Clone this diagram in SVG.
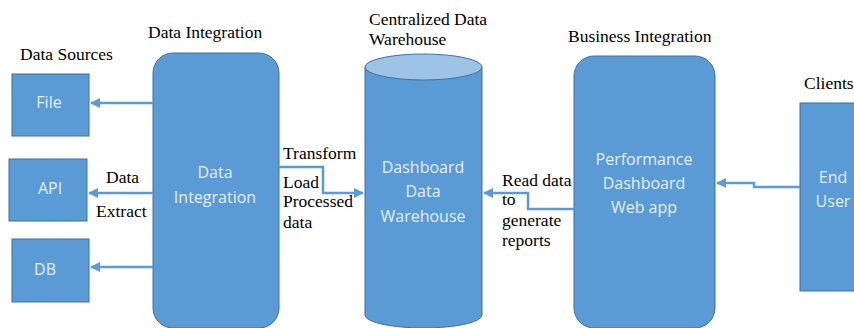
<svg xmlns="http://www.w3.org/2000/svg" width="854" height="328" viewBox="0 0 854 328">
<defs>
<style>
.box{fill:#5B9BD5;stroke:#41719C;stroke-width:1}
.top{fill:#9DC3E6;stroke:#41719C;stroke-width:1}
.lbl{font-family:"Liberation Serif","Times New Roman",serif;font-size:17.5px;fill:#000}
.in{font-family:"Open Sans","Noto Sans",sans-serif;font-size:16px;fill:#E2EEF9;text-anchor:middle}
.con{fill:none;stroke:#5B9BD5;stroke-width:2.5}
</style>
<marker id="ah" viewBox="0 0 10 10" refX="9" refY="5" markerWidth="4.2" markerHeight="4.2" orient="auto" markerUnits="strokeWidth">
<path d="M0,0 L10,5 L0,10 z" fill="#5B9BD5"/>
</marker>
</defs>
<rect width="854" height="328" fill="#fff"/>
<text class="lbl" x="20" y="60">Data Sources</text>
<text class="lbl" x="148" y="38">Data Integration</text>
<text class="lbl" x="369" y="25">Centralized Data</text>
<text class="lbl" x="369" y="45">Warehouse</text>
<text class="lbl" x="568" y="42">Business Integration</text>
<text class="lbl" x="804" y="89">Clients</text>
<g id="file"><rect class="box" x="12" y="74" width="77" height="62"/><text class="in" x="49" y="108">File</text></g>
<g id="api"><rect class="box" x="9" y="159" width="78" height="62"/><text class="in" x="50" y="194">API</text></g>
<g id="db"><rect class="box" x="12" y="239" width="77" height="63"/><text class="in" x="45" y="275">DB</text></g>
<g id="dataint"><rect class="box" x="153" y="53" width="126" height="275" rx="20"/><text class="in" x="215" y="178">Data</text><text class="in" x="215" y="203">Integration</text></g>
<g id="warehouse">
<path class="box" d="M365,67 L365,315 A58.5,13 0 0 0 482,315 L482,67 Z"/>
<ellipse class="top" cx="423.5" cy="67" rx="58.5" ry="13"/>
<text class="in" x="423" y="173">Dashboard</text><text class="in" x="423" y="197">Data</text><text class="in" x="423" y="222">Warehouse</text>
</g>
<g id="webapp"><rect class="box" x="574" y="56" width="141" height="272" rx="20"/><text class="in" x="644" y="165">Performance</text><text class="in" x="644" y="189">Dashboard</text><text class="in" x="644" y="213">Web app</text></g>
<g id="enduser"><rect class="box" x="800" y="103" width="60" height="188"/><text class="in" x="833" y="183">End</text><text class="in" x="833" y="207">User</text></g>
<g id="connectors">
<path class="con" d="M153,103 L91,103" marker-end="url(#ah)"/>
<path class="con" d="M153,193 L89,193" marker-end="url(#ah)"/>
<path class="con" d="M153,267 L91,267" marker-end="url(#ah)"/>
<path class="con" d="M279,167 L323,167 L323,193 L363,193" marker-end="url(#ah)"/>
<path class="con" d="M574,209 L528,209 L528,193 L484,193" marker-end="url(#ah)"/>
<path class="con" d="M800,187 L754,187 L754,183 L717,183" marker-end="url(#ah)"/>
</g>
<text class="lbl" x="106" y="183">Data</text>
<text class="lbl" x="96" y="217">Extract</text>
<text class="lbl" x="283" y="159">Transform</text>
<text class="lbl" x="283" y="188">Load</text>
<text class="lbl" x="283" y="207">Processed</text>
<text class="lbl" x="283" y="228">data</text>
<text class="lbl" x="502" y="186">Read data</text>
<text class="lbl" x="502" y="205">to</text>
<text class="lbl" x="502" y="226">generate</text>
<text class="lbl" x="502" y="246">reports</text>
</svg>
